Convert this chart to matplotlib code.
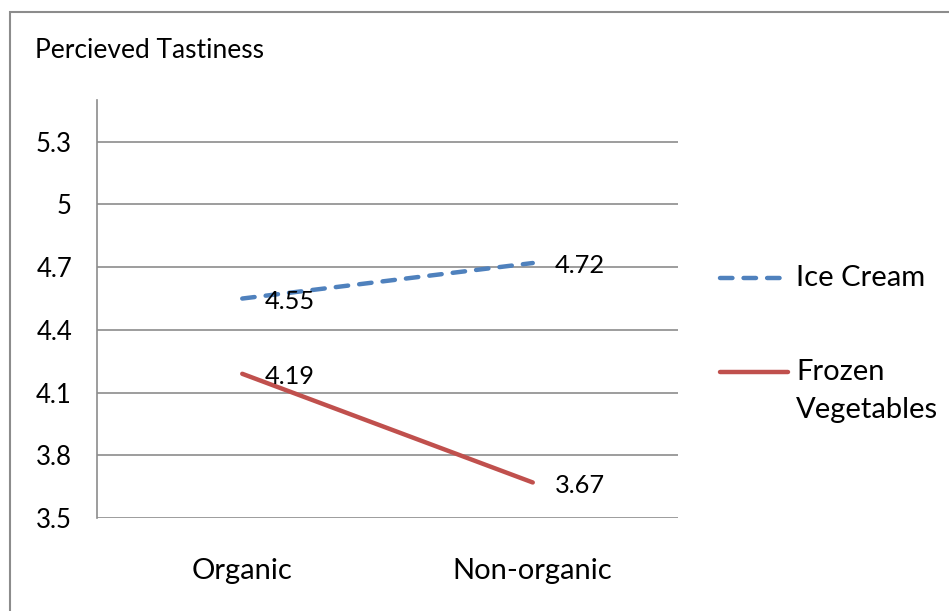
import matplotlib.pyplot as plt
import matplotlib.patches as patches
from matplotlib.lines import Line2D

plt.rcParams['font.family'] = ['Lato', 'DejaVu Sans']

groups = ["Organic", "Non-organic"]
ice_cream = [4.55, 4.72]
frozen_veg = [4.19, 3.67]
yticks = [3.5, 3.8, 4.1, 4.4, 4.7, 5.0, 5.3]
ytick_labels = ["3.5", "3.8", "4.1", "4.4", "4.7", "5", "5.3"]

blue = "#4F81BD"
red = "#C0504D"
grid_col = "#8c8c8c"

W, H = 949, 611
fig = plt.figure(figsize=(W / 100, H / 100), dpi=100)

# outer chart frame
fig.patches.append(patches.Rectangle((10 / W, -0.1), 1.2, (H - 12) / H + 0.1,
                                     transform=fig.transFigure, fill=False,
                                     edgecolor=grid_col, linewidth=1.5))

ax = fig.add_axes([97 / W, 93 / H, (678 - 97) / W, (518 - 100) / H])
ax.set_xlim(0, 2)
ax.set_ylim(3.5, 5.5)
for s in ["top", "right", "bottom"]:
    ax.spines[s].set_visible(False)
ax.spines["left"].set_color(grid_col)
ax.spines["left"].set_linewidth(1.2)

for y in yticks:
    ax.axhline(y, color=grid_col, linewidth=1.2, zorder=1)

ax.set_yticks(yticks)
ax.set_yticklabels(ytick_labels, fontsize=18.5)
ax.tick_params(axis="y", length=0, pad=18)
xpos = [0.5, 1.5]
ax.set_xticks(xpos)
ax.set_xticklabels(groups, fontsize=21)
ax.tick_params(axis="x", length=0, pad=29)

ln_ic, = ax.plot(xpos, ice_cream, color=blue, linewidth=3.2,
                 dash_capstyle="round", zorder=3)
ln_ic.set_dashes((2.8, 2.5))
ln_fv, = ax.plot(xpos, frozen_veg, color=red, linewidth=3.2,
                 solid_capstyle="round", zorder=3)

for vals in (ice_cream, frozen_veg):
    for x, v in zip(xpos, vals):
        ax.annotate(f"{v:.2f}", (x, v), xytext=(16, -2), textcoords="offset points",
                    ha="left", va="center", fontsize=18.3, zorder=4)

fig.text(35 / W, 1 - 50 / H, "Percieved Tastiness", fontsize=19,
         ha="left", va="center")

# legend drawn by hand in figure coords
fig.add_artist(Line2D([720 / W, 780 / W], [1 - 278 / H] * 2, color=blue, linewidth=3.2,
                      dashes=(2.8, 2.5), dash_capstyle="round"))
fig.text(796 / W, 1 - 278 / H, "Ice Cream", fontsize=21, ha="left", va="center")
fig.add_artist(Line2D([720 / W, 788 / W], [1 - 372 / H] * 2, color=red, linewidth=3.2,
                      solid_capstyle="round"))
fig.text(796 / W, 1 - 372 / H, "Frozen", fontsize=21, ha="left", va="center")
fig.text(796 / W, 1 - 410 / H, "Vegetables", fontsize=21, ha="left", va="center")

fig.savefig("out.png", dpi=100)
